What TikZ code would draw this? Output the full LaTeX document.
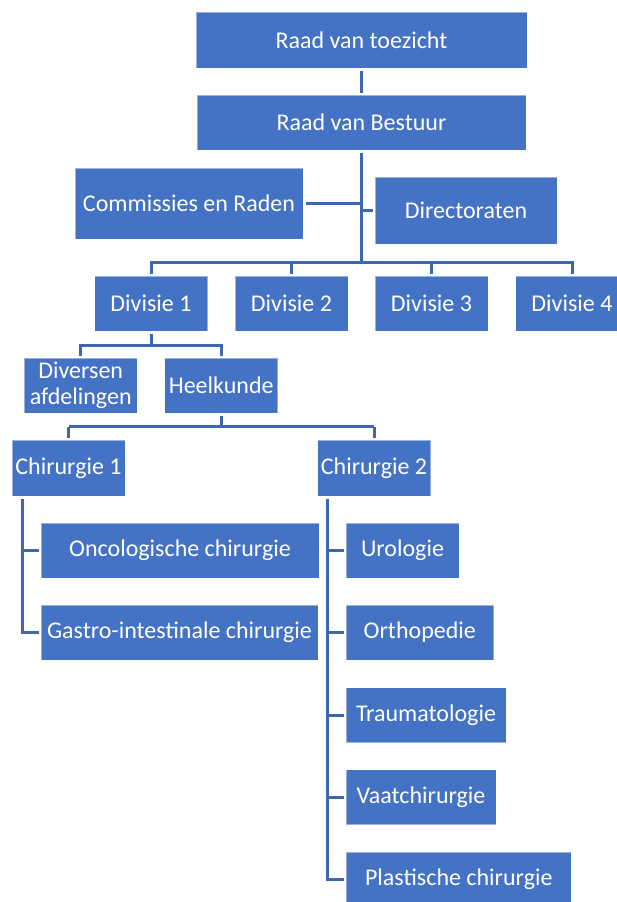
\documentclass[tikz,border=0pt]{standalone}
\usepackage{fontspec}
\setmainfont{Carlito}
\definecolor{boxblue}{HTML}{4472C4}
\definecolor{lineblue}{HTML}{3E67B1}
\begin{document}
\begin{tikzpicture}[x=1pt,y=-1pt,
  orgbox/.style={fill=boxblue, draw=white, draw opacity=0.45, line width=0.8pt,
    text=white, inner sep=0pt, outer sep=2.5pt, font=\fontsize{24}{26}\selectfont,
    align=center, minimum height=55pt},
  conn/.style={lineblue, line width=3pt}]
\useasboundingbox (0,0) rectangle (617,902);
% nodes
\node[orgbox, minimum width=331pt, minimum height=56pt] (rvt) at (361.5,40) {Raad van toezicht};
\node[orgbox, minimum width=329pt] (rvb) at (361.5,122.5) {Raad van Bestuur};
\node[orgbox, minimum width=228pt, minimum height=71pt] (com) at (189,203.5) {Commissies en Raden};
\node[orgbox, minimum width=182pt, minimum height=67pt] (dir) at (466,210.5) {Directoraten};
\node[orgbox, minimum width=113pt] (d1) at (151,303.5) {Divisie 1};
\node[orgbox, minimum width=113pt] (d2) at (291.5,303.5) {Divisie 2};
\node[orgbox, minimum width=113pt] (d3) at (431.5,303.5) {Divisie 3};
\node[orgbox, minimum width=113pt] (d4) at (572,303.5) {Divisie 4};
\node[orgbox, minimum width=113pt] (div) at (80.7,385.5) {Diversen\\afdelingen};
\node[orgbox, minimum width=113pt] (hk) at (221.2,385.5) {Heelkunde};
\node[orgbox, minimum width=113pt, minimum height=56pt] (c1) at (68.5,468) {Chirurgie 1};
\node[orgbox, minimum width=113pt, minimum height=56pt] (c2) at (374,468) {Chirurgie 2};
\node[orgbox, minimum width=278pt] (onc) at (180,550.5) {Oncologische chirurgie};
\node[orgbox, minimum width=277pt] (gas) at (179.5,632.5) {Gastro-intestinale chirurgie};
\node[orgbox, minimum width=113pt] (uro) at (402.5,550.5) {Urologie};
\node[orgbox, minimum width=147.5pt] (ort) at (419.8,632.5) {Orthopedie};
\node[orgbox, minimum width=160pt] (tra) at (426,715) {Traumatologie};
\node[orgbox, minimum width=150pt] (vaa) at (421,797) {Vaatchirurgie};
\node[orgbox, minimum width=225pt] (pla) at (458.8,879.5) {Plastische chirurgie};
% helper coordinates
\coordinate (busTop) at (361.5,262);
\coordinate (busD) at (151,345);
\coordinate (busH) at (221.2,426.5);
\coordinate (c1bot) at (22.4,632.5);
\coordinate (c2bot) at (327,879.5);
% connectors
\draw[conn] (rvt.south) -- (rvb.north);
\draw[conn] (rvb.south) -- (busTop);
\draw[conn] (com.east) -- (com.east -| busTop);
\draw[conn] (dir.west -| busTop) -- (dir.west);
\draw[conn] (d1.north) |- (busTop) -| (d4.north);
\draw[conn] (d2.north) -- (d2.north |- busTop);
\draw[conn] (d3.north) -- (d3.north |- busTop);
\draw[conn] (d1.south) -- (busD);
\draw[conn] (div.north) |- (busD) -| (hk.north);
\draw[conn] (hk.south) -- (busH);
\draw[conn] (c1.north |- busH) -- (c2.north |- busH);
\draw[conn] (c1.north) -- (c1.north |- busH);
\draw[conn] (c2.north) -- (c2.north |- busH);
\draw[conn] (c1.south -| c1bot) -- (c1bot) -- (gas.west);
\draw[conn] (onc.west -| c1bot) -- (onc.west);
\draw[conn] (c2.south -| c2bot) -- (c2bot) -- (pla.west);
\draw[conn] (uro.west -| c2bot) -- (uro.west);
\draw[conn] (ort.west -| c2bot) -- (ort.west);
\draw[conn] (tra.west -| c2bot) -- (tra.west);
\draw[conn] (vaa.west -| c2bot) -- (vaa.west);
\end{tikzpicture}
\end{document}
